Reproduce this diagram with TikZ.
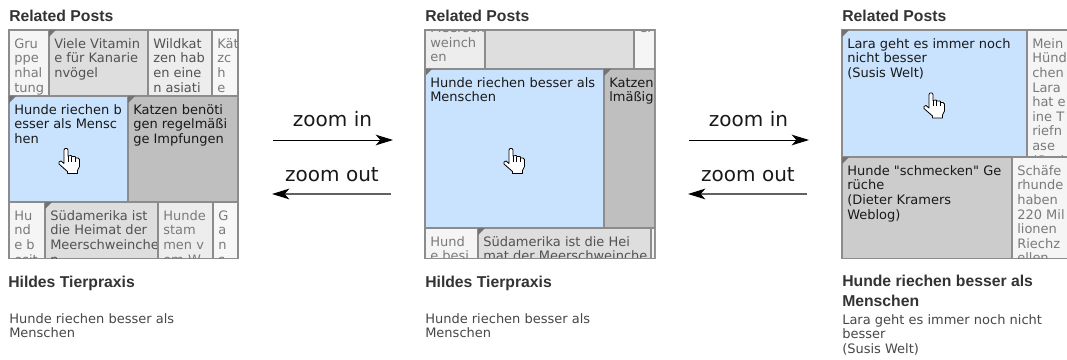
\documentclass[tikz,border=0pt]{standalone}
\usepackage{fontspec}
\setmainfont{DejaVu Sans}
\newfontfamily\plainquote{DejaVu Sans}
\newfontfamily\headfont{Liberation Sans}[BoldFont={Liberation Sans Bold}]
\usetikzlibrary{arrows.meta}
\definecolor{cblue}{HTML}{C9E3FF}
\definecolor{cgrid}{HTML}{8C8C8C}
\tikzset{
  x=0.75pt,y=-0.75pt,
  lightA/.style={fill=black!4},
  lightB/.style={fill=black!7},
  lightC/.style={fill=black!3},
  midgray/.style={fill=black!13},
  hovered/.style={fill=cblue},
  darkgray/.style={fill=black!25},
  softgray/.style={fill=black!20},
  celltext/.style={font=\fontsize{9.75pt}{10.95pt}\selectfont,align=left,inner sep=0pt,anchor=north west},
  faint/.style={text=black!52},
  dim/.style={text=black!68},
  strong/.style={text=black!90},
  heading/.style={font=\headfont\bfseries\fontsize{11.8pt}{15pt}\selectfont,text=black!80,inner sep=0pt,align=left,anchor=north west},
  caption/.style={font=\fontsize{9.75pt}{10.95pt}\selectfont,text=black!72,inner sep=0pt,align=left,anchor=north west},
  zoomlabel/.style={font=\fontsize{15pt}{18pt}\selectfont,text=black!90,inner sep=0pt,anchor=base},
  zoomarrow/.style={-{Stealth[length=13pt,width=8pt,inset=3.5pt]},line width=0.75pt,black},
  backarrow/.style={-{Stealth[black,length=13pt,width=8pt,inset=3.5pt]},line width=1pt,black!62},
  gridline/.style={draw=cgrid,line width=0.8pt},
  cornermark/.style={fill=black!55},
  handshape/.style={fill=white,draw=black,line width=0.6pt,line join=round},
}
% name, x1, y1, x2, y2, fill style, baseline of first line, text style, text
\newcommand\tmcell[9]{%
  \path[#6,gridline] (#2,#3) rectangle (#4,#5);
  \begin{scope}
    \clip (#2,#3) rectangle (#4,#5);
    \pgfmathsetmacro\tmbase{#7-12}
    \node[celltext,#8] (#1) at ({#2+5},\tmbase) {\rule{0pt}{9pt}#9};
  \end{scope}}
\newcommand\tmmark[2]{\fill[cornermark] (#1,#2) -- ({#1+7},#2) -- (#1,{#2+7}) -- cycle;}
\newcommand\tmhand[2]{%
  \begin{scope}[shift={(#1,#2)}]
    \path[handshape] (-2,1.5) -- (-1,0) -- (1,0) -- (2,1.5) -- (2,7.5) -- (5,7) -- (6,8) -- (9,8) -- (10,9.5) -- (12,9.5) -- (13.5,11)
      -- (13.5,18) -- (11.5,22) -- (11.5,25) -- (1.5,25) -- (1.5,23) -- (-2.5,19.5) -- (-7,15.5) -- (-7,13.5) -- (-5,12.5) -- (-2,15) -- cycle;
    \draw[black,line width=0.45pt] (2,7.5) -- (2,13) (5.5,8) -- (5.5,13) (9,8.5) -- (9,13);
  \end{scope}}
\begin{document}
\begin{tikzpicture}
\useasboundingbox (0,0) rectangle (1067,360);
\fill[white] (0,0) rectangle (1067,360);

% ---------- panel 1
\node[heading] (h1) at (9,10) {Related Posts};
\begin{scope}
\clip (8,29) rectangle (239,260);
\tmcell{a1}{9}{30}{49}{96}{lightA}{48}{faint}{Gru\\ppe\\nhal\\tung}
\tmcell{a2}{49}{30}{148}{96}{midgray}{48}{dim}{Viele Vitamin\\e für Kanarie\\nvögel}
\tmcell{a3}{148}{30}{212}{96}{lightB}{48}{dim}{Wildkat\\zen hab\\en eine\\n asiati}
\tmcell{a4}{212}{30}{238}{96}{lightC}{48}{faint}{Kät\\zc\\h\\e}
\tmcell{a5}{9}{96}{128}{202}{hovered}{114}{strong}{Hunde riechen b\\esser als Mensc\\hen}
\tmcell{a6}{128}{96}{238}{202}{darkgray}{114}{strong}{Katzen benöti\\gen regelmäßi\\ge Impfungen}
\tmcell{a7}{9}{202}{45}{258.5}{lightA}{220}{faint}{Hu\\nd\\e b\\esit}
\tmcell{a8}{45}{202}{158}{258.5}{midgray}{220}{dim}{Südamerika ist\\die Heimat der\\Meerschweinche\\n}
\tmcell{a9}{158}{202}{213}{258.5}{lightB}{220}{faint}{Hunde\\stam\\men v\\om W}
\tmcell{a10}{213}{202}{238}{258.5}{lightC}{220}{faint}{G\\a\\n\\s}
\tmmark{49}{30}\tmmark{9}{96}\tmmark{128}{96}\tmmark{45}{202}
\end{scope}
\tmhand{66}{148.5}
\node[heading] (t1) at (8,276) {Hildes Tierpraxis};
\node[caption] (c1) at (9,313) {Hunde riechen besser als\\Menschen};

% ---------- panel 2
\node[heading] (h2) at (425,10) {Related Posts};
\begin{scope}
\clip (424,29.5) rectangle (655.5,259);
\tmcell{b1}{425}{20}{485}{69}{lightB}{32.5}{faint}{Meersch\\weinch\\en}
\tmcell{b2}{485}{20}{634}{69}{midgray}{32.5}{dim}{}
\tmcell{b3}{634}{20}{656}{69}{lightA}{32.5}{faint}{er}
\tmcell{b4}{425}{69}{604}{228}{hovered}{87}{strong}{Hunde riechen besser als\\Menschen}
\tmcell{b5}{604}{69}{656}{228}{darkgray}{87}{strong}{Katzen\\lmäßig}
\tmcell{b6}{425}{228}{478}{258.5}{lightA}{246}{faint}{Hund\\e besi}
\tmcell{b7}{478}{228}{651}{258.5}{midgray}{246}{dim}{Südamerika ist die Hei\\mat der Meerschweinche}
\tmcell{b8}{651}{228}{656}{258.5}{lightA}{246}{faint}{}
\tmmark{425}{69}\tmmark{604}{69}\tmmark{478}{228}
\path[draw=cgrid,line width=0.8pt] (425,30) -- (655,30) -- (655,258.5) -- (425,258.5) -- cycle;
\end{scope}
\tmhand{511}{148.5}
\node[heading] (t2) at (425,276) {Hildes Tierpraxis};
\node[caption] (c2) at (425,313) {Hunde riechen besser als\\Menschen};

% ---------- panel 3
\node[heading] (h3) at (842,10) {Related Posts};
\begin{scope}
\clip (841,29.5) rectangle (1067,259);
\tmcell{d1}{842}{30}{1027}{157}{hovered}{48}{strong}{Lara geht es immer noch\\nicht besser\\(Susis Welt)}
\tmcell{d2}{1027}{30}{1075}{157}{lightA}{48}{faint}{Mein\\Hünd\\chen\\Lara\\hat e\\ine T\\riefn\\ase\\(Susi}
\tmcell{d3}{842}{157}{1012}{258.5}{softgray}{175}{strong}{Hunde {\plainquote "schmecken"} Ge\\rüche\\(Dieter Kramers\\Weblog)}
\tmcell{d4}{1012}{157}{1075}{258.5}{lightA}{175}{faint}{Schäfe\\rhunde\\haben\\220 Mil\\lionen\\Riechz\\ellen}
\tmmark{842}{30}\tmmark{842}{157}
\end{scope}
\tmhand{931}{93}
\node[heading] (t3) at (842,275) {Hunde riechen besser als\\Menschen};
\node[caption] (c3) at (842,314) {Lara geht es immer noch nicht\\besser\\(Susis Welt)};

% ---------- arrows
\coordinate (z1s) at (273,140); \coordinate (z1e) at (393,140);
\coordinate (z2s) at (391,194); \coordinate (z2e) at (272,194);
\coordinate (z3s) at (689,140); \coordinate (z3e) at (809,140);
\coordinate (z4s) at (807,194); \coordinate (z4e) at (688,194);
\node[zoomlabel] (l1) at (332.5,127) {zoom in};
\node[zoomlabel] (l2) at (332,181) {zoom out};
\node[zoomlabel] (l3) at (748.5,127) {zoom in};
\node[zoomlabel] (l4) at (748,181) {zoom out};
\draw[zoomarrow] (z1s) -- (z1e);
\draw[backarrow] (z2s) -- (z2e);
\draw[zoomarrow] (z3s) -- (z3e);
\draw[backarrow] (z4s) -- (z4e);
\end{tikzpicture}
\end{document}
